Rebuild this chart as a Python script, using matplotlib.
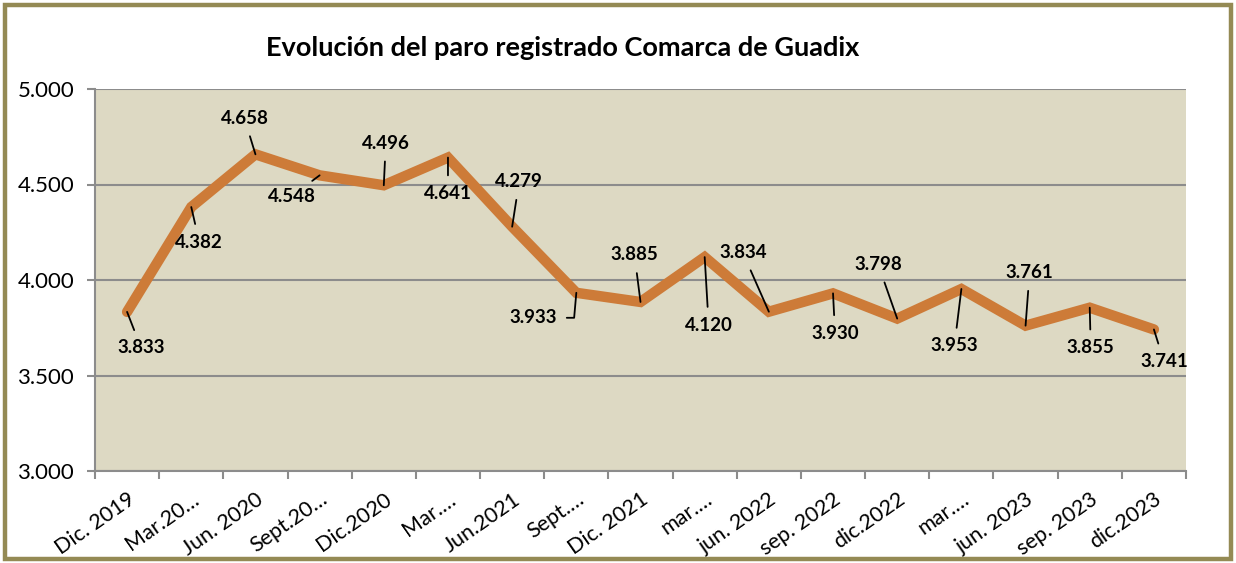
import matplotlib
matplotlib.use("Agg")
import matplotlib.pyplot as plt
from matplotlib.patches import Rectangle
from matplotlib.ticker import FuncFormatter, MultipleLocator

# Paro registrado, Comarca de Guadix (trimestral)
categories = ["Dic. 2019", "Mar.20…", "Jun. 2020", "Sept.20…", "Dic.2020",
              "Mar.…", "Jun.2021", "Sept.…", "Dic. 2021", "mar.…",
              "jun. 2022", "sep. 2022", "dic.2022", "mar.…", "jun. 2023",
              "sep. 2023", "dic.2023"]
paro = [3833, 4382, 4658, 4548, 4496, 4641, 4279, 3933, 3885, 4120,
        3834, 3930, 3798, 3953, 3761, 3855, 3741]

title = "Evolución del paro registrado Comarca de Guadix"

# label offsets from each point, in pixels (dx right, dy up)
label_offsets = [(14, -36), (8, -35), (-11, 36), (-28, -21), (2, 42),
                 (0, -36), (7, 45), (-43, -25), (-6, 47), (4, -68),
                 (-26, 59), (2, -40), (-19, 54), (-7, -57), (4, 53),
                 (1, -40), (10, -32)]

W, H, DPI = 1236, 563, 100
plt.rcParams["font.family"] = ["Lato", "DejaVu Sans"]

fig = plt.figure(figsize=(W / DPI, H / DPI), dpi=DPI)
fig.patch.set_facecolor("white")

# outer frame
fig.add_artist(Rectangle((5 / W, 4 / H), (W - 10) / W, (H - 9) / H,
                         transform=fig.transFigure, fill=False,
                         edgecolor="#948A54", linewidth=3.2))

ax = fig.add_axes([95 / W, (H - 471) / H, (1186 - 95) / W, (471 - 89) / H])
ax.set_facecolor("#DDD9C3")

x = list(range(len(paro)))
ax.plot(x, paro, color="#CD7B38", linewidth=7.5, solid_joinstyle="miter",
        solid_capstyle="round", zorder=3)

ax.set_xlim(-0.5, len(paro) - 0.5)
ax.set_ylim(3000, 5000)
ax.yaxis.set_major_locator(MultipleLocator(500))
ax.yaxis.set_major_formatter(
    FuncFormatter(lambda v, p: f"{int(v):,}".replace(",", ".")))
ax.grid(axis="y", color="#8C8C8C", linewidth=1.5, zorder=1)
ax.set_axisbelow(True)

for s in ("top", "right"):
    ax.spines[s].set_visible(False)
for s in ("left", "bottom"):
    ax.spines[s].set_color("#8C8C8C")
    ax.spines[s].set_linewidth(1.5)

ax.tick_params(axis="y", length=6, width=1.5, color="#8C8C8C",
               labelsize=16, pad=9)
ax.set_xticks([i - 0.5 for i in range(len(paro) + 1)], minor=True)
ax.set_xticks(x)
ax.tick_params(axis="x", which="minor", length=6, width=1.5, color="#8C8C8C")
ax.tick_params(axis="x", which="major", length=0, labelsize=15.5, pad=13)
ax.set_xticklabels(categories, rotation=35, ha="right", va="top",
                   rotation_mode="anchor")

px = 72 / DPI
for i, (v, (dx, dy)) in enumerate(zip(paro, label_offsets)):
    props = dict(arrowstyle="-", color="black", lw=1.3, shrinkA=5, shrinkB=0)
    if i == 7:
        props.update(connectionstyle="angle,angleA=0,angleB=85,rad=0",
                     relpos=(1.0, 0.5))
    ax.annotate(f"{v:,}".replace(",", "."), xy=(i, v),
                xytext=(dx * px, dy * px), textcoords="offset points",
                ha="center", va="center", fontsize=13.5, fontweight="bold",
                arrowprops=props, zorder=4)

fig.text(563 / W, 1 - 48 / H, title, ha="center", va="center",
         fontsize=19.5, fontweight="bold")

fig.savefig("out.png", dpi=DPI)
